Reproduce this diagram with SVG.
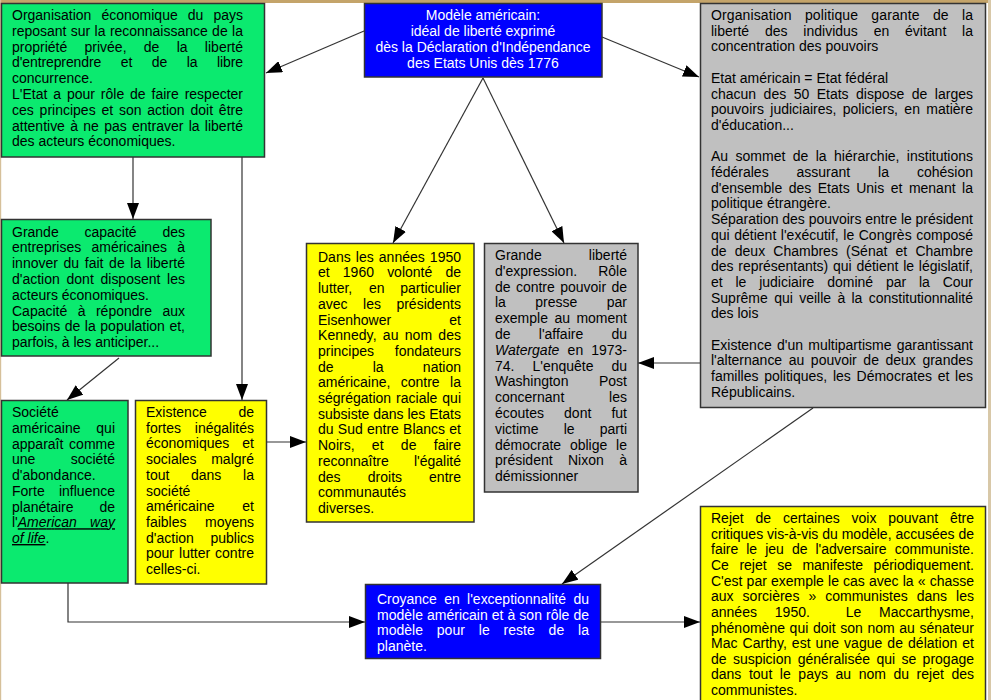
<svg xmlns="http://www.w3.org/2000/svg" width="991" height="700" viewBox="0 0 991 700">
<style>
.t{font-family:"Liberation Sans",Arial,sans-serif;font-size:14px;fill:#000}
.w{fill:#fff}
.e{text-anchor:end}
.m{text-anchor:middle}
.i{font-style:italic}
.u{text-decoration:underline}
.box{stroke:#333;stroke-width:1.5}
.g{fill:#0bea6f}
.y{fill:#ffff00}
.b{fill:#0000ff}
.s{fill:#c0c0c0}
.c{stroke:#333;stroke-width:1.2;fill:none;marker-end:url(#ah)}
</style>
<defs>
<marker id="ah" markerUnits="userSpaceOnUse" viewBox="0 0 16 12" refX="16" refY="6" markerWidth="16" markerHeight="12" orient="auto">
<path d="M0,0 L16,6 L0,12 z" fill="#000"/>
</marker>
</defs>
<rect x="0" y="0" width="991" height="700" fill="#fff"/>
<rect x="0" y="0" width="991" height="3" fill="#c4a46a"/>
<rect x="0" y="0" width="1.2" height="700" fill="#d6c09a"/>
<rect x="988" y="0" width="3" height="700" fill="#d8c8a8"/>

<g id="connectors">
<path class="c" d="M364,31 L266,73"/>
<path class="c" d="M602,37 L699,77"/>
<path class="c" d="M483,78 L393,243"/>
<path class="c" d="M483,78 L564,243"/>
<path class="c" d="M133,157 L133,219"/>
<path class="c" d="M242,157 L242,400"/>
<path class="c" d="M119,358 L67,400"/>
<path class="c" d="M267,442 L306,442"/>
<path class="c" d="M700,363 L638,363"/>
<path class="c" d="M813,408 L562,584"/>
<path class="c" d="M68,583 L68,622 L365,622"/>
<path class="c" d="M601,622 L700,622"/>
</g>

<g id="eco">
<rect class="box g" x="1.5" y="3.5" width="263" height="153.5"/>
<text class="t" x="12" y="20" word-spacing="6.2" textLength="231" lengthAdjust="spacing">Organisation économique du pays</text>
<text class="t" x="12" y="35.8" word-spacing="0.58" textLength="231" lengthAdjust="spacing">reposant sur la reconnaissance de la</text>
<text class="t" x="12" y="51.6" word-spacing="13.4" textLength="231" lengthAdjust="spacing">propriété privée, de la liberté</text>
<text class="t" x="12" y="67.4" word-spacing="15.75" textLength="231" lengthAdjust="spacing">d'entreprendre et de la libre</text>
<text class="t" x="12" y="83.2">concurrence.</text>
<text class="t" x="12" y="99" word-spacing="2" textLength="231" lengthAdjust="spacing">L'Etat a pour rôle de faire respecter</text>
<text class="t" x="12" y="114.8" word-spacing="1.93" textLength="231" lengthAdjust="spacing">ces principes et son action doit être</text>
<text class="t" x="12" y="130.6" word-spacing="1.4" textLength="231" lengthAdjust="spacing">attentive à ne pas entraver la liberté</text>
<text class="t" x="12" y="146.4">des acteurs économiques.</text>
</g>

<g id="modele">
<rect class="box b" x="364.5" y="3.5" width="237.5" height="73.5"/>
<text class="t w m" x="483" y="20">Modèle américain:</text>
<text class="t w m" x="483" y="36">idéal de liberté exprimé</text>
<text class="t w m" x="483" y="52">dès la Déclaration d'Indépendance</text>
<text class="t w m" x="483" y="68">des Etats Unis dès 1776</text>
</g>

<g id="politique">
<rect class="box s" x="700.5" y="3.5" width="285" height="404"/>
<text class="t" x="711" y="20" word-spacing="9.3" textLength="262" lengthAdjust="spacing">Organisation politique garante de la</text>
<text class="t" x="711" y="35.7" word-spacing="11.94" textLength="262" lengthAdjust="spacing">liberté des individus en évitant la</text>
<text class="t" x="711" y="51.4">concentration des pouvoirs</text>
<text class="t" x="711" y="82.8">Etat américain = Etat fédéral</text>
<text class="t" x="711" y="98.5" word-spacing="3.58" textLength="262" lengthAdjust="spacing">chacun des 50 Etats dispose de larges</text>
<text class="t" x="711" y="114.2" word-spacing="2.48" textLength="262" lengthAdjust="spacing">pouvoirs judiciaires, policiers, en matière</text>
<text class="t" x="711" y="129.9">d'éducation...</text>
<text class="t" x="711" y="161.3" word-spacing="3.54" textLength="262" lengthAdjust="spacing">Au sommet de la hiérarchie, institutions</text>
<text class="t" x="711" y="177" word-spacing="24" textLength="262" lengthAdjust="spacing">fédérales assurant la cohésion</text>
<text class="t" x="711" y="192.7" word-spacing="2.63" textLength="262" lengthAdjust="spacing">d'ensemble des Etats Unis et menant la</text>
<text class="t" x="711" y="208.4">politique étrangère.</text>
<text class="t" x="711" y="224.1" textLength="262" lengthAdjust="spacing">Séparation des pouvoirs entre le président</text>
<text class="t" x="711" y="239.8" word-spacing="0.66" textLength="262" lengthAdjust="spacing">qui détient l'exécutif, le Congrès composé</text>
<text class="t" x="711" y="255.5" word-spacing="4.32" textLength="262" lengthAdjust="spacing">de deux Chambres (Sénat et Chambre</text>
<text class="t" x="711" y="271.2" word-spacing="1.02" textLength="262" lengthAdjust="spacing">des représentants) qui détient le législatif,</text>
<text class="t" x="711" y="286.9" word-spacing="8.92" textLength="262" lengthAdjust="spacing">et le judiciaire dominé par la Cour</text>
<text class="t" x="711" y="302.6" word-spacing="2.44" textLength="262" lengthAdjust="spacing">Suprême qui veille à la constitutionnalité</text>
<text class="t" x="711" y="318.3">des lois</text>
<text class="t" x="711" y="349.7" word-spacing="1.37" textLength="262" lengthAdjust="spacing">Existence d'un multipartisme garantissant</text>
<text class="t" x="711" y="365.4" word-spacing="2.68" textLength="262" lengthAdjust="spacing">l'alternance au pouvoir de deux grandes</text>
<text class="t" x="711" y="381.1" word-spacing="1.82" textLength="262" lengthAdjust="spacing">familles politiques, les Démocrates et les</text>
<text class="t" x="711" y="396.8">Républicains.</text>
</g>

<g id="innovation">
<rect class="box g" x="1.5" y="219.5" width="209.5" height="136.5"/>
<text class="t" x="12" y="236.5">Grande</text>
<text class="t m" x="110.5" y="236.5">capacité</text>
<text class="t e" x="185" y="236.5">des</text>
<text class="t" x="12" y="252.3">entreprises</text>
<text class="t m" x="129.2" y="252.3">américaines</text>
<text class="t e" x="185" y="252.3">à</text>
<text class="t" x="12" y="268.1" word-spacing="1.76" textLength="173" lengthAdjust="spacing">innover du fait de la liberté</text>
<text class="t" x="12" y="283.9" word-spacing="2.83" textLength="173" lengthAdjust="spacing">d'action dont disposent les</text>
<text class="t" x="12" y="299.7">acteurs économiques.</text>
<text class="t" x="12" y="315.5" word-spacing="6.57" textLength="173" lengthAdjust="spacing">Capacité à répondre aux</text>
<text class="t" x="12" y="331.3" word-spacing="0.65" textLength="173" lengthAdjust="spacing">besoins de la population et,</text>
<text class="t" x="12" y="347.1">parfois, à les anticiper...</text>
</g>

<g id="abondance">
<rect class="box g" x="1.5" y="400.5" width="126.5" height="182.5"/>
<text class="t" x="12" y="417">Société</text>
<text class="t" x="12" y="432.75">américaine</text>
<text class="t e" x="115" y="432.75">qui</text>
<text class="t" x="12" y="448.5">apparaît</text>
<text class="t e" x="115" y="448.5">comme</text>
<text class="t" x="12" y="464.25">une</text>
<text class="t e" x="115" y="464.25">société</text>
<text class="t" x="12" y="480">d'abondance.</text>
<text class="t" x="12" y="495.75">Forte</text>
<text class="t e" x="115" y="495.75">influence</text>
<text class="t" x="12" y="511.5">planétaire</text>
<text class="t e" x="115" y="511.5">de</text>
<text class="t" x="12" y="527.25" word-spacing="9.3" textLength="103" lengthAdjust="spacing">l'<tspan class="i u">American way</tspan></text>
<text class="t" x="12" y="543"><tspan class="i u">of life</tspan>.</text>
</g>

<g id="inegalites">
<rect class="box y" x="135.5" y="400.5" width="131" height="183.5"/>
<text class="t" x="146" y="417">Existence</text>
<text class="t e" x="254" y="417">de</text>
<text class="t" x="146" y="432.7">fortes</text>
<text class="t e" x="254" y="432.7">inégalités</text>
<text class="t" x="146" y="448.4">économiques</text>
<text class="t e" x="254" y="448.4">et</text>
<text class="t" x="146" y="464.1">sociales</text>
<text class="t e" x="254" y="464.1">malgré</text>
<text class="t" x="146" y="479.8">tout</text>
<text class="t m" x="206.2" y="479.8">dans</text>
<text class="t e" x="254" y="479.8">la</text>
<text class="t" x="146" y="495.5">société</text>
<text class="t" x="146" y="511.2">américaine</text>
<text class="t e" x="254" y="511.2">et</text>
<text class="t" x="146" y="526.9">faibles</text>
<text class="t e" x="254" y="526.9">moyens</text>
<text class="t" x="146" y="542.6">d'action</text>
<text class="t e" x="254" y="542.6">publics</text>
<text class="t" x="146" y="558.3">pour</text>
<text class="t m" x="194.6" y="558.3">lutter</text>
<text class="t e" x="254" y="558.3">contre</text>
<text class="t" x="146" y="574">celles-ci.</text>
</g>

<g id="segregation">
<rect class="box y" x="306.5" y="243.5" width="167.5" height="278.5"/>
<text class="t" x="318" y="261.7" word-spacing="1.23" textLength="143" lengthAdjust="spacing">Dans les années 1950</text>
<text class="t" x="318" y="277.4" word-spacing="9.27" textLength="143" lengthAdjust="spacing">et 1960 volonté de</text>
<text class="t" x="318" y="293.1">lutter,</text>
<text class="t m" x="376.7" y="293.1">en</text>
<text class="t e" x="461" y="293.1">particulier</text>
<text class="t" x="318" y="308.8">avec</text>
<text class="t m" x="372" y="308.8">les</text>
<text class="t e" x="461" y="308.8">présidents</text>
<text class="t" x="318" y="324.5">Eisenhower</text>
<text class="t e" x="461" y="324.5">et</text>
<text class="t" x="318" y="340.2" word-spacing="2.27" textLength="143" lengthAdjust="spacing">Kennedy, au nom des</text>
<text class="t" x="318" y="355.9">principes</text>
<text class="t e" x="461" y="355.9">fondateurs</text>
<text class="t" x="318" y="371.6">de</text>
<text class="t m" x="378.2" y="371.6">la</text>
<text class="t e" x="461" y="371.6">nation</text>
<text class="t" x="318" y="387.3">américaine,</text>
<text class="t m" x="420.2" y="387.3">contre</text>
<text class="t e" x="461" y="387.3">la</text>
<text class="t" x="318" y="403" word-spacing="1.1" textLength="143" lengthAdjust="spacing">ségrégation raciale qui</text>
<text class="t" x="318" y="418.7" textLength="143" lengthAdjust="spacing">subsiste dans les Etats</text>
<text class="t" x="318" y="434.4" word-spacing="0.35" textLength="143" lengthAdjust="spacing">du Sud entre Blancs et</text>
<text class="t" x="318" y="450.1" word-spacing="13.43" textLength="143" lengthAdjust="spacing">Noirs, et de faire</text>
<text class="t" x="318" y="465.8">reconnaître</text>
<text class="t e" x="461" y="465.8">l'égalité</text>
<text class="t" x="318" y="481.5">des</text>
<text class="t m" x="384.9" y="481.5">droits</text>
<text class="t e" x="461" y="481.5">entre</text>
<text class="t" x="318" y="497.2">communautés</text>
<text class="t" x="318" y="512.9">diverses.</text>
</g>

<g id="expression">
<rect class="box s" x="484.5" y="243.5" width="153.5" height="248.5"/>
<text class="t" x="495" y="260">Grande</text>
<text class="t e" x="627" y="260">liberté</text>
<text class="t" x="495" y="275.8">d'expression.</text>
<text class="t e" x="627" y="275.8">Rôle</text>
<text class="t" x="495" y="291.6" word-spacing="1.47" textLength="132" lengthAdjust="spacing">de contre pouvoir de</text>
<text class="t" x="495" y="307.4">la</text>
<text class="t m" x="556.3" y="307.4">presse</text>
<text class="t e" x="627" y="307.4">par</text>
<text class="t" x="495" y="323.2">exemple</text>
<text class="t m" x="562.2" y="323.2">au</text>
<text class="t e" x="627" y="323.2">moment</text>
<text class="t" x="495" y="339">de</text>
<text class="t m" x="561" y="339">l'affaire</text>
<text class="t e" x="627" y="339">du</text>
<text class="t i" x="495" y="354.8">Watergate</text>
<text class="t m" x="575.4" y="354.8">en</text>
<text class="t e" x="627" y="354.8">1973-</text>
<text class="t" x="495" y="370.6">74.</text>
<text class="t m" x="563" y="370.6">L'enquête</text>
<text class="t e" x="627" y="370.6">du</text>
<text class="t" x="495" y="386.4">Washington</text>
<text class="t e" x="627" y="386.4">Post</text>
<text class="t" x="495" y="402.2">concernant</text>
<text class="t e" x="627" y="402.2">les</text>
<text class="t" x="495" y="418">écoutes</text>
<text class="t m" x="577.7" y="418">dont</text>
<text class="t e" x="627" y="418">fut</text>
<text class="t" x="495" y="433.8">victime</text>
<text class="t m" x="569.2" y="433.8">le</text>
<text class="t e" x="627" y="433.8">parti</text>
<text class="t" x="495" y="449.6">démocrate</text>
<text class="t m" x="588.6" y="449.6">oblige</text>
<text class="t e" x="627" y="449.6">le</text>
<text class="t" x="495" y="465.4">président</text>
<text class="t m" x="585.9" y="465.4">Nixon</text>
<text class="t e" x="627" y="465.4">à</text>
<text class="t" x="495" y="481.2">démissionner</text>
</g>

<g id="croyance">
<rect class="box b" x="365.5" y="584.5" width="235" height="74"/>
<text class="t w" x="377" y="604" word-spacing="3.47" textLength="212" lengthAdjust="spacing">Croyance en l'exceptionnalité du</text>
<text class="t w" x="377" y="619.6" word-spacing="0.18" textLength="212" lengthAdjust="spacing">modèle américain et à son rôle de</text>
<text class="t w" x="377" y="635.2" word-spacing="10.02" textLength="212" lengthAdjust="spacing">modèle pour le reste de la</text>
<text class="t w" x="377" y="650.8">planète.</text>
</g>

<g id="rejet">
<rect class="box y" x="700.5" y="506.5" width="285" height="200"/>
<text class="t" x="711" y="523" word-spacing="7.94" textLength="263" lengthAdjust="spacing">Rejet de certaines voix pouvant être</text>
<text class="t" x="711" y="538.6" textLength="263" lengthAdjust="spacing">critiques vis-à-vis du modèle, accusées de</text>
<text class="t" x="711" y="554.3" word-spacing="4.14" textLength="263" lengthAdjust="spacing">faire le jeu de l'adversaire communiste.</text>
<text class="t" x="711" y="569.9" word-spacing="6.62" textLength="263" lengthAdjust="spacing">Ce rejet se manifeste périodiquement.</text>
<text class="t" x="711" y="585.6" word-spacing="0.25" textLength="263" lengthAdjust="spacing">C'est par exemple le cas avec la « chasse</text>
<text class="t" x="711" y="601.2" word-spacing="5.14" textLength="263" lengthAdjust="spacing">aux sorcières » communistes dans les</text>
<text class="t" x="711" y="616.8" word-spacing="14" textLength="263" lengthAdjust="spacing">années 1950.&#160; Le Maccarthysme,</text>
<text class="t" x="711" y="632.5" word-spacing="0.77" textLength="263" lengthAdjust="spacing">phénomène qui doit son nom au sénateur</text>
<text class="t" x="711" y="648.1" word-spacing="1.11" textLength="263" lengthAdjust="spacing">Mac Carthy, est une vague de délation et</text>
<text class="t" x="711" y="663.8" word-spacing="2.48" textLength="263" lengthAdjust="spacing">de suspicion généralisée qui se progage</text>
<text class="t" x="711" y="679.4" word-spacing="3.69" textLength="263" lengthAdjust="spacing">dans tout le pays au nom du rejet des</text>
<text class="t" x="711" y="695">communistes.</text>
</g>
</svg>
